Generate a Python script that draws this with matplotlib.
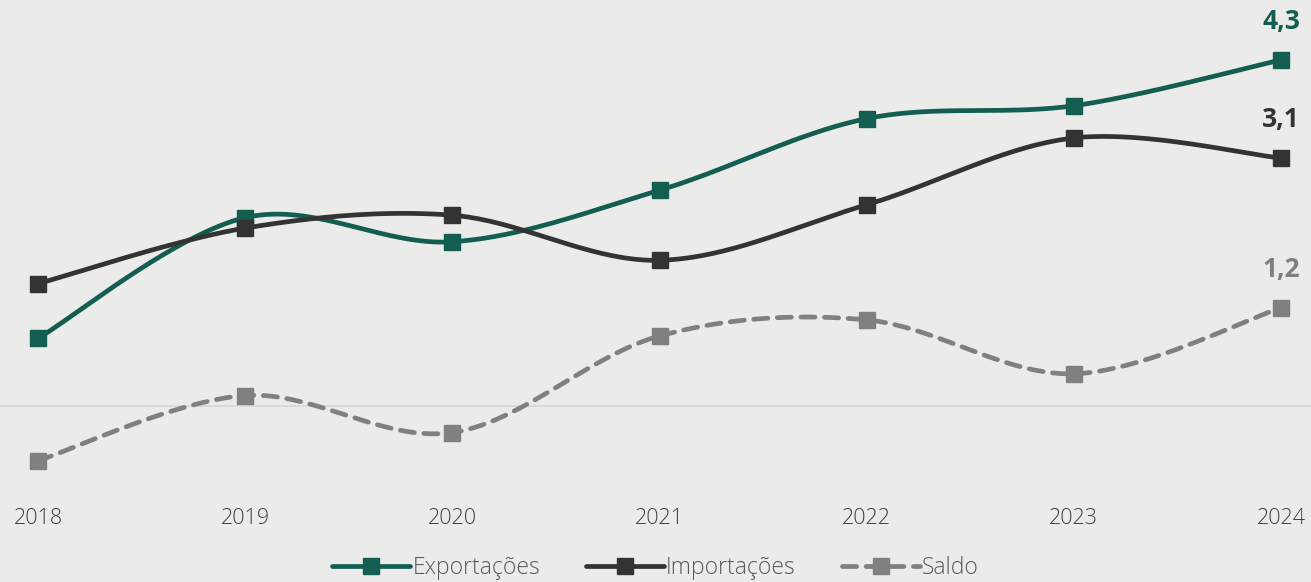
import matplotlib
matplotlib.use("Agg")
import matplotlib.pyplot as plt
from matplotlib.lines import Line2D
import numpy as np

plt.rcParams['font.family'] = ['Open Sans', 'DejaVu Sans']

years = [2018, 2019, 2020, 2021, 2022, 2023, 2024]
exportacoes = [0.84, 2.34, 2.04, 2.68, 3.57, 3.73, 4.30]
importacoes = [1.52, 2.21, 2.37, 1.81, 2.50, 3.33, 3.08]
saldo = [-0.68, 0.13, -0.33, 0.87, 1.07, 0.40, 1.22]
end_labels = ["4,3", "3,1", "1,2"]

BG = "#EBECEA"
C_EXP, C_IMP, C_SAL = "#135E50", "#333333", "#808080"


def smooth(x, y, n=40):
    # Excel-like smoothed line (Catmull-Rom through the data points)
    x = np.asarray(x, float); y = np.asarray(y, float)
    px = np.r_[x[0], x, x[-1]]; py = np.r_[y[0], y, y[-1]]
    xs, ys = [], []
    t = np.linspace(0, 1, n)
    for i in range(1, len(px) - 2):
        p0, p1, p2, p3 = [np.array([px[j], py[j]]) for j in (i - 1, i, i + 1, i + 2)]
        b1 = p1 + (p2 - p0) / 6
        b2 = p2 - (p3 - p1) / 6
        pts = ((1 - t) ** 3)[:, None] * p1 + (3 * (1 - t) ** 2 * t)[:, None] * b1 \
            + (3 * (1 - t) * t ** 2)[:, None] * b2 + (t ** 3)[:, None] * p2
        xs.append(pts[:, 0]); ys.append(pts[:, 1])
    return np.concatenate(xs), np.concatenate(ys)


fig = plt.figure(figsize=(13.11, 5.82), dpi=100, facecolor=BG)
ax = fig.add_axes([0, 0, 1, 1], facecolor=BG)
step = (1281 - 38) / 6
ax.set_xlim(2018 - 38 / step, 2024 + 30 / step)
ppu = 80.5
ax.set_ylim(-(582 - 406) / ppu, 406 / ppu)
ax.axis("off")

ax.axhline(0, color="#D6D7D5", lw=1.2, zorder=1)

series = [(exportacoes, C_EXP, "-", "Exportações"),
          (importacoes, C_IMP, "-", "Importações"),
          (saldo, C_SAL, (0, (3, 2)), "Saldo")]
for vals, c, ls, name in series:
    sx, sy = smooth(years, vals)
    ax.plot(sx, sy, color=c, lw=3.4, ls=ls, zorder=2, solid_capstyle="round",
            dash_capstyle="round")
    ax.plot(years, vals, ls="none", marker="s", ms=11.5, color=c, zorder=3)

for vals, c, lab in zip([exportacoes, importacoes, saldo], [C_EXP, C_IMP, C_SAL], end_labels):
    ax.annotate(lab, (years[-1], vals[-1]), xytext=(0, 18), textcoords="offset points",
                ha="center", va="bottom", fontsize=19, fontweight="bold", color=c)

for yr in years:
    ax.text(yr, -112 / ppu, str(yr), ha="center", va="center", fontsize=15.5,
            color="#404040", fontweight="light")

# legend
handles = [Line2D([], [], color=c, lw=3.4, ls=ls, marker="s", ms=11, dash_capstyle="round",
                  solid_capstyle="round") for _, c, ls, _ in series]
leg = fig.legend(handles, [s[3] for s in series], loc="center", bbox_to_anchor=(0.5, 1 - 568 / 582),
                 ncol=3, frameon=False, fontsize=16.5, handlelength=3.4, handletextpad=0.1,
                 columnspacing=2.0, labelcolor="#595959")
for t in leg.get_texts():
    t.set_fontweight("light")

fig.savefig("out.png", dpi=100, facecolor=BG)
